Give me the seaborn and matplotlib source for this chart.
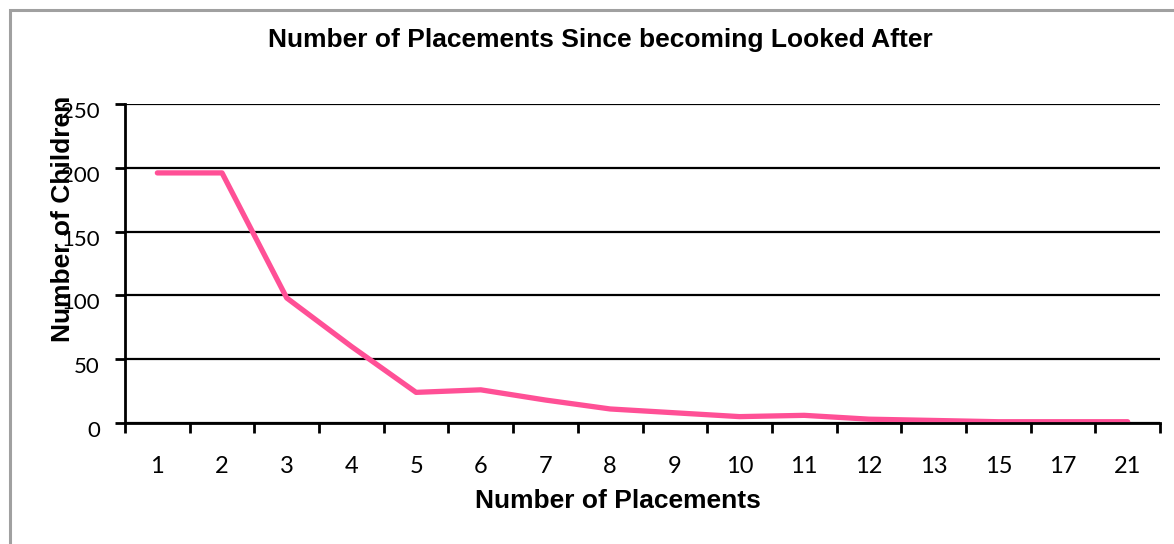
import numpy as np
import pandas as pd
import matplotlib
matplotlib.use("Agg")
import matplotlib.pyplot as plt
import matplotlib.transforms as mtransforms
from matplotlib.patches import Rectangle
import seaborn as sns

# data
placements = ["1", "2", "3", "4", "5", "6", "7", "8", "9", "10", "11", "12", "13", "15", "17", "21"]
children = [196, 196, 98, 60, 24, 26, 18, 11, 8, 5, 6, 3, 2, 1, 1, 1]

df = pd.DataFrame({"placements": placements, "children": children})

sns.set_style("white")
plt.rcParams["font.family"] = ["Liberation Sans", "DejaVu Sans"]
plt.rcParams["text.color"] = "black"

fig = plt.figure(figsize=(11.74, 5.44), dpi=100)
W, H = 1174, 544
ax = fig.add_axes([125 / W, 1 - 423 / H, (1160 - 125) / W, (423 - 104) / H])

sns.lineplot(data=df, x="placements", y="children", ax=ax,
             color="#FF5096", linewidth=3.8, sort=False)

n = len(placements)
ax.set_xlim(-0.5, n - 0.5)
ax.set_ylim(0, 250)
ax.set_yticks([0, 50, 100, 150, 200, 250])
ax.set_xticks(np.arange(n))
ax.set_xticklabels(placements, fontfamily="Lato", fontsize=17, color="black")
ax.set_xticks(np.arange(n + 1) - 0.5, minor=True)
ax.tick_params(axis="x", which="major", bottom=False, length=0, pad=24)
ax.tick_params(axis="x", which="minor", bottom=True, length=7, width=2,
               direction="out", color="black")
ax.tick_params(axis="y", left=True, length=7, width=2, direction="out",
               color="black", labelsize=16, labelcolor="black", pad=11)

# excel puts the value labels a little below their gridline
shift = mtransforms.ScaledTranslation(0, -6 / 100, fig.dpi_scale_trans)
for lab in ax.get_yticklabels():
    lab.set_fontfamily("Lato")
    lab.set_transform(lab.get_transform() + shift)

ax.grid(axis="y", color="black", linewidth=1.6)
ax.set_axisbelow(True)
for side in ["top", "right"]:
    ax.spines[side].set_visible(False)
for side in ["left", "bottom"]:
    ax.spines[side].set_color("black")
    ax.spines[side].set_linewidth(2)
ax.set_xlabel("")
ax.set_ylabel("")

fig.text(600 / W, 1 - 40 / H, "Number of Placements Since becoming Looked After",
         ha="center", va="center", fontsize=19, fontweight="bold")
fig.text(618 / W, 1 - 501 / H, "Number of Placements",
         ha="center", va="center", fontsize=19, fontweight="bold")
fig.text(63 / W, 1 - 219 / H, "Number of Children", rotation=90,
         ha="center", va="center", fontsize=19, fontweight="bold")

# gray frame around the chart
fig.patches.append(Rectangle((10 / W, -0.1), 1.2, 1 - 10 / H + 0.1,
                             transform=fig.transFigure, fill=False,
                             edgecolor="#A0A0A0", linewidth=2.2))

fig.savefig("out.png", dpi=100)
